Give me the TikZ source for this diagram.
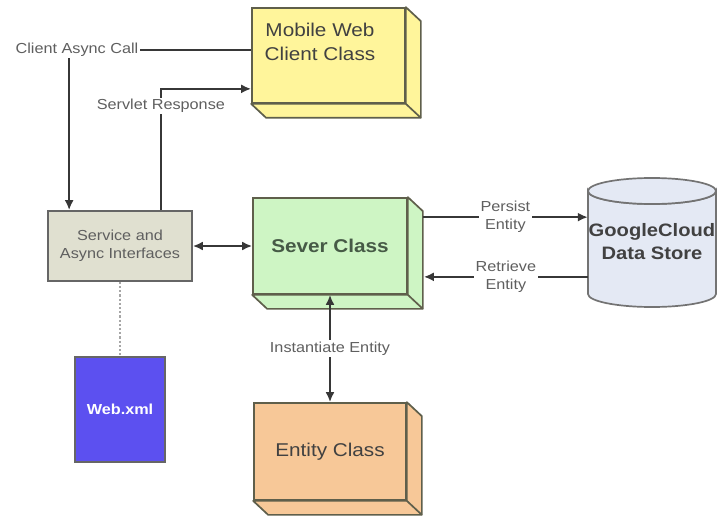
\documentclass[tikz,border=0pt]{standalone}
\usepackage{fontspec}
\setmainfont{Liberation Sans}[FakeStretch=1.12]
\usetikzlibrary{calc,arrows.meta}
\definecolor{mobilefill}{RGB}{255,245,155}
\definecolor{servicefill}{RGB}{224,224,208}
\definecolor{severfill}{RGB}{206,245,196}
\definecolor{entityfill}{RGB}{247,200,152}
\definecolor{webfill}{RGB}{92,80,240}
\definecolor{storefill}{RGB}{228,233,244}
\definecolor{edgegrey}{RGB}{95,95,75}
\definecolor{linegrey}{RGB}{55,55,55}
\definecolor{textgrey}{RGB}{95,95,95}
\definecolor{darktext}{RGB}{65,65,65}
\def\boxdepth[#1](#2){\filldraw[#1] (#2.north east) -- ++(15,14) -- ($(#2.south east)+(15,14)$) -- ($(#2.south west)+(15,14)$) -- (#2.south west) -- (#2.south east) -- cycle;
	\draw[#1] (#2.south east) -- ++(15,14);}

\begin{document}
\begin{tikzpicture}[x=1pt,y=-1pt,
	face/.style={draw=edgegrey, line width=1.7pt, inner sep=0pt},
	side/.style={draw=edgegrey, line width=1.7pt, line join=round},
	link/.style={draw=linegrey, line width=2.2pt},
	arrow/.style={link, -{Latex[length=10pt,width=9pt]}},
	twoway/.style={link, {Latex[length=10pt,width=9pt]}-{Latex[length=10pt,width=9pt]}},
	lbl/.style={fill=white, text=textgrey, font=\fontsize{14.5}{18}\selectfont, inner sep=1.5pt, align=center},
	big/.style={text=darktext, font=\fontsize{18.5}{24}\selectfont, align=center}]
			%%%%% START %%%%%
			
			\useasboundingbox (0,0) rectangle (717,516);
			
			% mobile web client
			\node[face, fill=mobilefill, minimum width=153pt, minimum height=95pt] (mobile) at (328.5,55.5) {};
			\boxdepth[side, fill=mobilefill](mobile)
			\node[big] (mobiletxt) at (320,42) {Mobile Web\\Client Class};
			
			% service and interfaces
			\node[face, draw=black!60, fill=servicefill, minimum width=144pt, minimum height=70pt, text=textgrey, font=\fontsize{14.5}{18}\selectfont, align=center] (service) at (120,246) {Service and\\Async Interfaces};
			
			% server
			\node[face, fill=severfill, minimum width=154pt, minimum height=96pt, text={rgb,255:red,70;green,90;blue,70}, font=\fontsize{18.5}{24}\selectfont\bfseries] (sever) at (330,246) {Sever Class};
			\boxdepth[side, fill=severfill](sever)
			
			% entity
			\node[face, fill=entityfill, minimum width=152pt, minimum height=97pt, big] (entity) at (330,451.5) {Entity Class};
			\boxdepth[side, fill=entityfill](entity)
			
			% web.xml
			\node[face, draw=black!60, fill=webfill, minimum width=90pt, minimum height=105pt, text=white, font=\fontsize{14.5}{18}\selectfont\bfseries] (web) at (120,409.5) {Web.xml};
			
			% data store
			\filldraw[draw=black!55, line width=1.7pt, fill=storefill] (588,191) -- (588,294) arc[start angle=180, end angle=0, x radius=64, y radius=13] -- (716,191) arc[start angle=0, end angle=180, x radius=64, y radius=13] -- cycle;
			\filldraw[draw=black!55, line width=1.7pt, fill=storefill] (652,191) ellipse [x radius=64, y radius=13];
			\node[inner sep=0pt, minimum width=128pt, text=darktext, font=\fontsize{18}{23}\selectfont\bfseries, align=center] (store) at (652,242) {GoogleCloud\\Data Store};
			
			% connectors
			\node[lbl] (asynccall) at (77,50) {Client Async Call};
			\coordinate (callin) at ($(service.north west)+(22,0)$);
			\draw[link] (mobile.west |- asynccall.east) -- (asynccall.east);
			\draw[arrow] (asynccall.south -| callin) -- (callin);
			
			\coordinate (respout) at ($(service.north east)+(-32,0)$);
			\coordinate (respin) at ($(mobile.south west)+(0,-15)$);
			\draw[arrow] (respout) |- (respin) node[lbl, pos=0.43] (response) {Servlet Response};
			
			\draw[twoway] (service.east) -- (sever.west);
			
			\coordinate (persistout) at ($(sever.north east)+(15,20)$);
			\draw[arrow] (persistout) -- (store.west |- persistout) node[lbl, midway] (persist) {Persist\\Entity};
			
			\coordinate (retrievein) at ($(sever.south east)+(16,-18)$);
			\draw[arrow] (store.west |- retrievein) -- (retrievein) node[lbl, midway] (retrieve) {Retrieve\\Entity};
			
			\draw[twoway] (sever.south) -- (entity.north) node[lbl, midway] (instantiate) {Instantiate Entity};
			
			\draw[dotted, line width=2.2pt, draw=black!35] (service.south) -- (web.north);
			
			%%%%% END %%%%%
\end{tikzpicture}
\end{document}
